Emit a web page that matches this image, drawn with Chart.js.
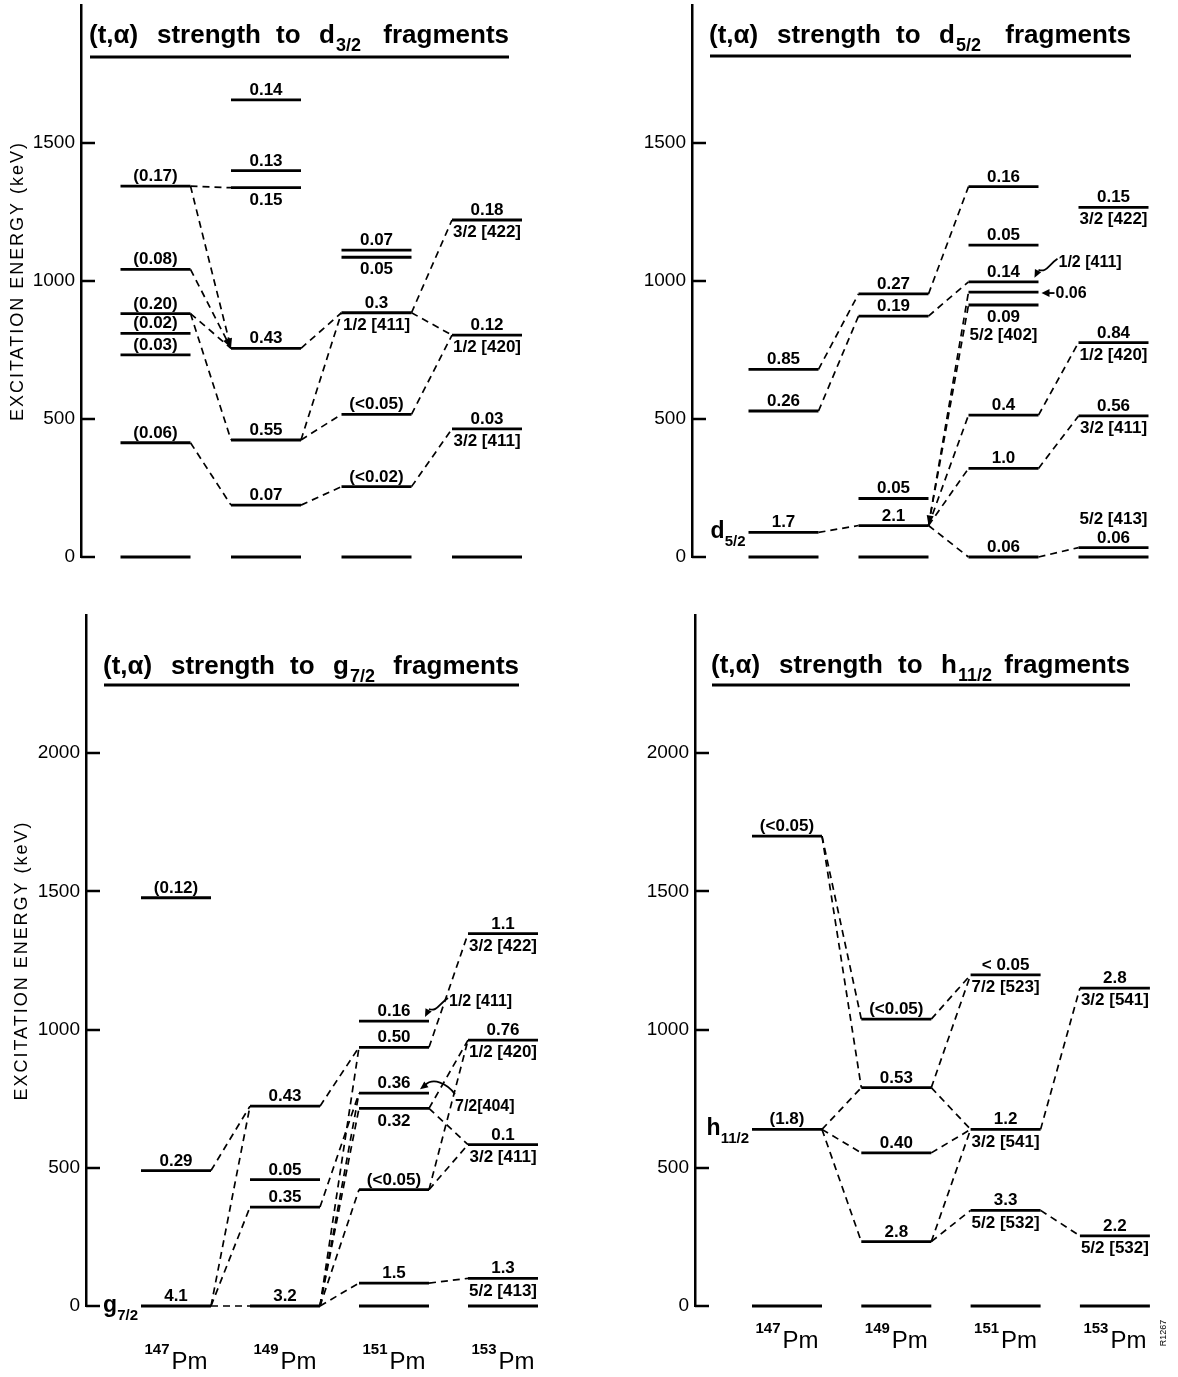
<!DOCTYPE html>
<html><head><meta charset="utf-8">
<script src="https://cdn.jsdelivr.net/npm/chart.js@4.4.1/dist/chart.umd.min.js"></script>
<style>
body{margin:0;background:#fff;}
#wrap{position:relative;width:1178px;height:1377px;overflow:hidden;background:#fff;}
#wrap canvas{position:absolute;}
</style></head>
<body><div id="wrap"></div>
<script>
// ---------------- DATA ----------------
const isotopes = ['147', '149', '151', '153'];
const ticksTop = [0, 500, 1000, 1500];
const ticksBottom = [0, 500, 1000, 1500, 2000];

// level: [key, column (isotope index 1..4), energy keV, label above, label below, spin label]
const d32Levels = [
  ['a017', 1, 1344, '(0.17)', ''],
  ['a008', 1, 1042, '(0.08)', ''],
  ['a020', 1, 882, '(0.20)', ''],
  ['a002', 1, 810, '(0.02)', ''],
  ['a003', 1, 732, '(0.03)', ''],
  ['a006', 1, 414, '(0.06)', ''],
  ['a0', 1, 0, '', ''],
  ['b014', 2, 1656, '0.14', ''],
  ['b013', 2, 1400, '0.13', ''],
  ['b015', 2, 1338, '', '0.15'],
  ['b043', 2, 756, '0.43', ''],
  ['b055', 2, 424, '0.55', ''],
  ['b007', 2, 188, '0.07', ''],
  ['b0', 2, 0, '', ''],
  ['c007', 3, 1112, '0.07', ''],
  ['c005', 3, 1086, '', '0.05'],
  ['c03', 3, 885, '0.3', '1/2 [411]'],
  ['c005b', 3, 517, '(<0.05)', ''],
  ['c002', 3, 255, '(<0.02)', ''],
  ['c0', 3, 0, '', ''],
  ['d018', 4, 1221, '0.18', '3/2 [422]'],
  ['d012', 4, 804, '0.12', '1/2 [420]'],
  ['d003', 4, 464, '0.03', '3/2 [411]'],
  ['d0', 4, 0, '', '']
];
// link: [from level, to level, arrow end]
const d32Links = [
  ['a017', 'b015'], ['a017', 'b043', 'to'], ['a008', 'b043', 'to'], ['a020', 'b043'], ['a020', 'b055'], ['a006', 'b007'],
  ['b043', 'c03'], ['b055', 'c03'], ['b055', 'c005b'], ['b007', 'c002'],
  ['c03', 'd018'], ['c03', 'd012'], ['c005b', 'd012'], ['c002', 'd003']
];
const d32Notes = [];

const d52Levels = [
  ['a085', 1, 680, '0.85', ''],
  ['a026', 1, 529, '0.26', ''],
  ['a17', 1, 89, '1.7', '', 'd|5/2'],
  ['a0', 1, 0, '', ''],
  ['b027', 2, 953, '0.27', ''],
  ['b019', 2, 873, '0.19', ''],
  ['b005', 2, 212, '0.05', ''],
  ['b21', 2, 114, '2.1', ''],
  ['b0', 2, 0, '', ''],
  ['c016', 3, 1342, '0.16', ''],
  ['c005', 3, 1130, '0.05', ''],
  ['c014', 3, 997, '0.14', ''],
  ['c006', 3, 960, '', ''],
  ['c009', 3, 913, '', '0.09\n5/2 [402]'],
  ['c04', 3, 514, '0.4', ''],
  ['c10', 3, 321, '1.0', ''],
  ['c0', 3, 0, '0.06', ''],
  ['d015', 4, 1267, '0.15', '3/2 [422]'],
  ['d084', 4, 777, '0.84', '1/2 [420]'],
  ['d056', 4, 511, '0.56', '3/2 [411]'],
  ['d006', 4, 34, '5/2 [413]\n0.06', ''],
  ['d0', 4, 0, '', '']
];
const d52Links = [
  ['a085', 'b027'], ['a026', 'b019'], ['a17', 'b21'],
  ['b027', 'c016'], ['b019', 'c014'],
  ['b21', 'c006', 'from'], ['b21', 'c009'], ['b21', 'c04'], ['b21', 'c10'], ['b21', 'c0'],
  ['c04', 'd084'], ['c10', 'd056'], ['c0', 'd006']
];
const d52Notes = [['c014', '1/2 [411]', 'curveUp'], ['c006', '0.06', 'side']];

const g72Levels = [
  ['a012', 1, 1477, '(0.12)', ''],
  ['a029', 1, 490, '0.29', ''],
  ['a41', 1, 0, '4.1', '', 'g|7/2'],
  ['b043', 2, 723, '0.43', ''],
  ['b005', 2, 457, '0.05', ''],
  ['b035', 2, 358, '0.35', ''],
  ['b32', 2, 0, '3.2', ''],
  ['c016', 3, 1031, '0.16', ''],
  ['c050', 3, 936, '0.50', ''],
  ['c036', 3, 770, '0.36', ''],
  ['c032', 3, 715, '', '0.32'],
  ['c005', 3, 421, '(<0.05)', ''],
  ['c15', 3, 83, '1.5', ''],
  ['c0', 3, 0, '', ''],
  ['d11', 4, 1347, '1.1', '3/2 [422]'],
  ['d076', 4, 962, '0.76', '1/2 [420]'],
  ['d01', 4, 584, '0.1', '3/2 [411]'],
  ['d13', 4, 100, '1.3', '5/2 [413]'],
  ['d0', 4, 0, '', '']
];
const g72Links = [
  ['a41', 'b32'], ['a41', 'b043'], ['a41', 'b035'], ['a029', 'b043'],
  ['b043', 'c050'], ['b035', 'c036'], ['b32', 'c050'], ['b32', 'c036'], ['b32', 'c032'], ['b32', 'c005'], ['b32', 'c15'],
  ['c050', 'd11'], ['c032', 'd076'], ['c032', 'd01'], ['c005', 'd076'], ['c005', 'd01'], ['c15', 'd13']
];
const g72Notes = [['c016', '1/2 [411]', 'curveUp'], ['c036', '7/2[404]', 'curveDown']];

const h112Levels = [
  ['a005', 1, 1700, '(<0.05)', ''],
  ['a18', 1, 639, '(1.8)', '', 'h|11/2'],
  ['a0', 1, 0, '', ''],
  ['b005', 2, 1038, '(<0.05)', ''],
  ['b053', 2, 790, '0.53', ''],
  ['b040', 2, 554, '0.40', ''],
  ['b28', 2, 233, '2.8', ''],
  ['b0', 2, 0, '', ''],
  ['c005', 3, 1198, '< 0.05', '7/2 [523]'],
  ['c12', 3, 639, '1.2', '3/2 [541]'],
  ['c33', 3, 346, '3.3', '5/2 [532]'],
  ['c0', 3, 0, '', ''],
  ['d28', 4, 1150, '2.8', '3/2 [541]'],
  ['d22', 4, 254, '2.2', '5/2 [532]'],
  ['d0', 4, 0, '', '']
];
const h112Links = [
  ['a005', 'b005'], ['a005', 'b053'], ['a18', 'b053'], ['a18', 'b040'], ['a18', 'b28'],
  ['b005', 'c005'], ['b053', 'c005'], ['b053', 'c12'], ['b040', 'c12'], ['b28', 'c12'], ['b28', 'c33'],
  ['c12', 'd28'], ['c33', 'd22']
];
const h112Notes = [];

// ---------------- LAYOUT ----------------
const FONT = '"Liberation Sans", Arial, sans-serif';
const panels = [
  {name:'d32', levels:d32Levels, links:d32Links, notes:d32Notes, letter:'d', sub:'3/2',
   left:0, top:0, w:589, h:600, axisX:81, areaTop:5, areaBottom:557, max:2000, ticks:ticksTop,
   c1:155.5, sp:110.5, yTitle:18, tx0:90, tx1:509, tBase:43, tLine:57, iso:false},
  {name:'d52', levels:d52Levels, links:d52Links, notes:d52Notes, letter:'d', sub:'5/2',
   left:589, top:0, w:589, h:600, axisX:103, areaTop:5, areaBottom:557, max:2000, ticks:ticksTop,
   c1:194.5, sp:110, yTitle:0, tx0:121, tx1:542, tBase:43, tLine:56, iso:false},
  {name:'g72', levels:g72Levels, links:g72Links, notes:g72Notes, letter:'g', sub:'7/2',
   left:0, top:600, w:589, h:777, axisX:86, areaTop:15, areaBottom:706, max:2500, ticks:ticksBottom,
   c1:176, sp:109, yTitle:22, tx0:104, tx1:519, tBase:74, tLine:85, iso:true, isoBase:769},
  {name:'h112', levels:h112Levels, links:h112Links, notes:h112Notes, letter:'h', sub:'11/2',
   left:589, top:600, w:589, h:777, axisX:106, areaTop:15, areaBottom:706, max:2500, ticks:ticksBottom,
   c1:198, sp:109.3, yTitle:0, tx0:123, tx1:541, tBase:73, tLine:85, iso:true, isoBase:748, tag:'R1267'}
];

function arrowHead(ctx, x1, y1, x2, y2, len, wid) {
  const a = Math.atan2(y2 - y1, x2 - x1);
  ctx.beginPath();
  ctx.moveTo(x2, y2);
  ctx.lineTo(x2 - len*Math.cos(a) + wid*Math.sin(a), y2 - len*Math.sin(a) - wid*Math.cos(a));
  ctx.lineTo(x2 - len*Math.cos(a) - wid*Math.sin(a), y2 - len*Math.sin(a) + wid*Math.cos(a));
  ctx.closePath(); ctx.fill();
}

function makePlugin(P, hw) {
  return {
    id: 'panel_' + P.name,
    afterDatasetsDraw(chart) {
      const ctx = chart.ctx, xs = chart.scales.x, ys = chart.scales.y, area = chart.chartArea;
      const lv = {}; P.levels.forEach(l => lv[l[0]] = l);
      const px = c => xs.getPixelForValue(c);
      const py = e => ys.getPixelForValue(e);
      const LBL = 'bold 17px ' + FONT;
      ctx.save();
      ctx.fillStyle = '#000'; ctx.strokeStyle = '#000';
      // inward tick marks
      ctx.lineWidth = 2.5; ctx.setLineDash([]);
      ys.ticks.forEach(t => {
        const y = Math.round(py(t.value));
        ctx.beginPath(); ctx.moveTo(area.left, y); ctx.lineTo(area.left + 14, y); ctx.stroke();
      });
      // level labels
      ctx.font = LBL;
      ctx.textAlign = 'center';
      P.levels.forEach(l => {
        const cx = px(l[1]), y = py(l[2]);
        if (l[3]) {
          const lines = l[3].split('\n');
          ctx.textBaseline = 'alphabetic';
          lines.reverse().forEach((s, i) => ctx.fillText(s, cx, y - 5 - i * 19));
        }
        if (l[4]) {
          const lines = l[4].split('\n');
          ctx.textBaseline = 'top';
          lines.forEach((s, i) => ctx.fillText(s, cx, y + 4 + i * 18));
        }
        if (l[5]) {
          const [main, sub] = l[5].split('|');
          const xl = px(l[1] - hw);
          ctx.textBaseline = 'alphabetic';
          ctx.textAlign = 'right';
          ctx.font = 'bold 15px ' + FONT;
          const sw = ctx.measureText(sub).width;
          ctx.fillText(sub, xl - 3, y + 14);
          ctx.font = 'bold 23px ' + FONT;
          ctx.fillText(main, xl - 3 - sw, y + 6);
          ctx.font = LBL;
          ctx.textAlign = 'center';
        }
      });
      // arrowheads on links
      P.links.forEach(k => {
        if (!k[2]) return;
        const a = lv[k[0]], b = lv[k[1]];
        const x1 = px(a[1] + hw), y1 = py(a[2]), x2 = px(b[1] - hw), y2 = py(b[2]);
        if (k[2] === 'to') arrowHead(ctx, x1, y1, x2, y2, 10, 3.5);
        else arrowHead(ctx, x2, y2, x1, y1, 10, 3.5);
      });
      // notes
      P.notes.forEach(n => {
        const l = lv[n[0]];
        const xr = px(l[1] + hw), y = py(l[2]);
        ctx.textAlign = 'left';
        ctx.textBaseline = 'alphabetic';
        ctx.font = 'bold 16px ' + FONT;
        ctx.lineWidth = 1.8; ctx.setLineDash([]);
        if (n[2] === 'side') {
          ctx.beginPath(); ctx.moveTo(xr + 16, y + 1); ctx.lineTo(xr + 6, y + 1); ctx.stroke();
          arrowHead(ctx, xr + 12, y + 1, xr + 3, y + 1, 8, 4);
          ctx.textBaseline = 'middle';
          ctx.fillText(n[1], xr + 17, y + 2);
        } else if (n[2] === 'curveUp') {
          const tx = xr + 20, tb = y - 15;
          ctx.fillText(n[1], tx, tb);
          const tipX = xr - 4, tipY = y - 4;
          ctx.beginPath();
          ctx.moveTo(tx - 1, tb - 8);
          ctx.bezierCurveTo(tx - 10, tb - 2, tx - 12, tb + 6, tipX + 4, tipY - 8);
          ctx.stroke();
          arrowHead(ctx, tipX + 5, tipY - 10, tipX, tipY, 8, 3.5);
        } else if (n[2] === 'curveDown') {
          const tx = xr + 26, tb = y + 18;
          ctx.fillText(n[1], tx, tb);
          const tipX = xr - 9, tipY = y - 4;
          ctx.beginPath();
          ctx.moveTo(tx, y + 1);
          ctx.bezierCurveTo(tx - 8, y - 10, xr + 4, y - 16, tipX + 5, tipY - 4);
          ctx.stroke();
          arrowHead(ctx, tipX + 8, tipY - 6, tipX, tipY, 8, 3.5);
        }
      });
      // title
      ctx.textAlign = 'left'; ctx.textBaseline = 'alphabetic';
      ctx.font = 'bold 26px ' + FONT;
      ctx.fillText('(t,\u03b1)', P.tx0 - 1, P.tBase);
      ctx.fillText('strength', P.tx0 + 67, P.tBase);
      ctx.fillText('to', P.tx0 + 186, P.tBase);
      ctx.fillText(P.letter, P.tx0 + 229, P.tBase);
      const lw = ctx.measureText(P.letter).width;
      ctx.textAlign = 'right';
      ctx.fillText('fragments', P.tx1, P.tBase);
      ctx.textAlign = 'left';
      ctx.font = 'bold 18px ' + FONT;
      ctx.fillText(P.sub, P.tx0 + 229 + lw + 1, P.tBase + 8);
      ctx.lineWidth = 3;
      ctx.beginPath(); ctx.moveTo(P.tx0, P.tLine); ctx.lineTo(P.tx1, P.tLine); ctx.stroke();
      // y axis title
      if (P.yTitle) {
        ctx.save();
        ctx.translate(P.yTitle, (area.top + area.bottom) / 2);
        ctx.rotate(-Math.PI / 2);
        ctx.font = '18px ' + FONT;
        const txt = 'EXCITATION ENERGY (keV)';
        const w0 = ctx.measureText(txt).width;
        try { ctx.letterSpacing = ((278 - w0) / (txt.length - 1)).toFixed(2) + 'px'; } catch (e) {}
        ctx.textAlign = 'center'; ctx.textBaseline = 'middle';
        ctx.fillText(txt, 0, 0);
        ctx.restore();
      }
      // isotope labels
      if (P.iso) {
        isotopes.forEach((m, i) => {
          const cx = px(i + 1);
          ctx.font = 'bold 15px ' + FONT;
          const w1 = ctx.measureText(m).width;
          ctx.font = '24px ' + FONT;
          const w2 = ctx.measureText('Pm').width;
          const x0 = cx - (w1 + w2 + 2) / 2;
          ctx.textAlign = 'left'; ctx.textBaseline = 'alphabetic';
          ctx.fillText('Pm', x0 + w1 + 2, P.isoBase);
          ctx.font = 'bold 15px ' + FONT;
          ctx.fillText(m, x0, P.isoBase - 15);
        });
      }
      if (P.tag) {
        ctx.save();
        ctx.translate(575, 733);
        ctx.rotate(-Math.PI / 2);
        ctx.font = '9px ' + FONT;
        ctx.textAlign = 'center'; ctx.textBaseline = 'middle';
        ctx.fillText(P.tag, 0, 0);
        ctx.restore();
      }
      ctx.restore();
    }
  };
}

const wrap = document.getElementById('wrap');
panels.forEach(P => {
  const cv = document.createElement('canvas');
  cv.width = P.w; cv.height = P.h;
  cv.style.left = P.left + 'px'; cv.style.top = P.top + 'px';
  cv.style.width = P.w + 'px'; cv.style.height = P.h + 'px';
  wrap.appendChild(cv);
  const hw = 35 / P.sp;
  const xmin = 1 - (P.c1 - P.axisX) / P.sp;
  const xmax = xmin + (P.w - P.axisX) / P.sp;
  const lv = {}; P.levels.forEach(l => lv[l[0]] = l);
  const datasets = [];
  P.levels.forEach(l => datasets.push({
    data: [{x: l[1] - hw, y: l[2]}, {x: l[1] + hw, y: l[2]}],
    showLine: true, borderColor: '#000', borderWidth: 2.8, pointRadius: 0, clip: false, borderCapStyle: 'butt'
  }));
  P.links.forEach(k => {
    const a = lv[k[0]], b = lv[k[1]];
    datasets.push({
      data: [{x: a[1] + hw, y: a[2]}, {x: b[1] - hw, y: b[2]}],
      showLine: true, borderColor: '#000', borderWidth: 1.7, borderDash: [7, 5], pointRadius: 0, clip: false
    });
  });
  new Chart(cv, {
    type: 'scatter',
    data: {datasets},
    options: {
      responsive: false, animation: false, devicePixelRatio: 1,
      layout: {padding: {top: P.areaTop, bottom: P.h - P.areaBottom, left: 0, right: 0}},
      plugins: {legend: {display: false}, tooltip: {enabled: false}},
      events: [],
      scales: {
        x: {type: 'linear', display: false, min: xmin, max: xmax},
        y: {
          type: 'linear', min: 0, max: P.max,
          afterBuildTicks: s => { s.ticks = P.ticks.map(v => ({value: v})); },
          afterFit: s => { s.width = P.axisX; s.paddingTop = 0; s.paddingBottom = 0; },
          grid: {display: true, drawOnChartArea: false, drawTicks: false},
          border: {display: true, color: '#000', width: 2.5},
          ticks: {color: '#000', font: {family: FONT, size: 19}, padding: 6, callback: v => String(v)}
        }
      }
    },
    plugins: [makePlugin(P, hw)]
  });
});
</script>
</body></html>
